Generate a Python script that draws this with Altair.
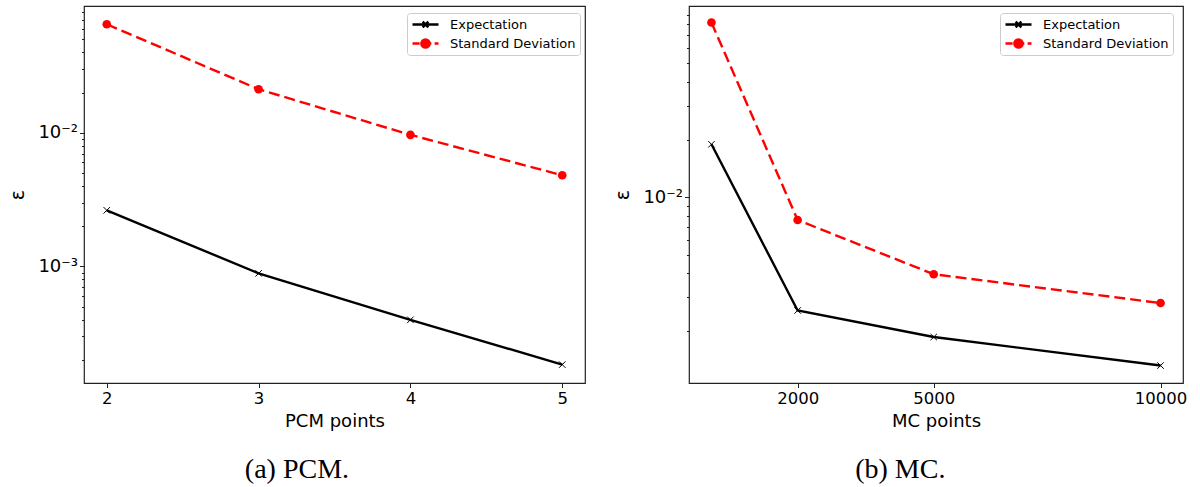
import altair as alt
import pandas as pd

# ---- data ----
series = ["Expectation", "Standard Deviation"]

pcm_x = [2, 3, 4, 5]
pcm_exp = [0.00263, 0.000887, 0.000398, 0.000184]
pcm_std = [0.0650, 0.0212, 0.00966, 0.00481]

mc_x = [100, 2000, 5000, 10000]
mc_exp = [0.0189, 0.00256, 0.00186, 0.00132]
mc_std = [0.0818, 0.0076, 0.00396, 0.00280]

pcm_xticks = [2, 3, 4, 5]
mc_xticks = [2000, 5000, 10000]

pcm_yticks = [0.0002, 0.0003, 0.0004, 0.0005, 0.0006, 0.0007, 0.0008, 0.0009,
              0.001, 0.002, 0.003, 0.004, 0.005, 0.006, 0.007, 0.008, 0.009,
              0.01, 0.02, 0.03, 0.04, 0.05, 0.06, 0.07, 0.08]
mc_yticks = [0.002, 0.003, 0.004, 0.005, 0.006, 0.007, 0.008, 0.009,
             0.01, 0.02, 0.03, 0.04, 0.05, 0.06, 0.07, 0.08, 0.09]

x_titles = ["PCM points", "MC points"]
captions = ["(a) PCM.", "(b) MC."]
y_title = "ε"

XPATH = "M-1,-1L1,1M-1,1L1,-1"
LEG_EXP = "M-1,0L1,0M-0.22,-0.22L0.22,0.22M-0.22,0.22L0.22,-0.22"
LEG_STD = ("M-1,0L-0.45,0M-0.2,0L0.45,0M0.7,0L1,0"
           "M0.32,0A0.32,0.32,0,1,1,-0.32,0A0.32,0.32,0,1,1,0.32,0Z")

MAJOR_TEST = "abs(datum.value-0.01)<1e-12 || abs(datum.value-0.001)<1e-12"
LABEL_EXPR = ("abs(datum.value-0.01)<1e-12 ? '10⁻²' : "
              "abs(datum.value-0.001)<1e-12 ? '10⁻³' : ''")


def panel(xs, exp, std, xdom, ydom, xticks, yticks, xtitle, caption,
          xformat, w, legx, legy):
    df = pd.DataFrame({
        "x": xs + xs,
        "y": exp + std,
        "series": [series[0]] * len(xs) + [series[1]] * len(xs),
    })
    base = alt.Chart(df)
    xenc = alt.X("x:Q",
                 scale=alt.Scale(domain=xdom, nice=False, zero=False),
                 axis=alt.Axis(values=xticks, format=xformat, title=xtitle,
                               tickSize=4.5, labelPadding=3, titlePadding=5,
                               labelFlush=False))
    yenc = alt.Y("y:Q",
                 scale=alt.Scale(type="log", domain=ydom, nice=False),
                 axis=alt.Axis(values=yticks, labelExpr=LABEL_EXPR,
                               tickSize={"condition": {"test": MAJOR_TEST, "value": 4.5},
                                         "value": 2.5},
                               title=y_title, titleFontSize=19,
                               labelFontSize=18,
                               labelPadding=2, titlePadding=10,
                               labelFlush=False, labelOverlap=False))
    exp_b = base.transform_filter(alt.datum.series == series[0])
    std_b = base.transform_filter(alt.datum.series == series[1])
    exp_line = exp_b.mark_line(color="black", strokeWidth=2.4).encode(x=xenc, y=yenc)
    exp_pts = exp_b.mark_point(shape=XPATH, size=42, color="black",
                               strokeWidth=1, filled=False, opacity=1).encode(x=xenc, y=yenc)
    std_line = std_b.mark_line(color="red", strokeWidth=2.4,
                               strokeDash=[11, 5]).encode(x=xenc, y=yenc)
    std_pts = std_b.mark_point(shape="circle", size=75, filled=True,
                               color="red", opacity=1).encode(x=xenc, y=yenc)

    leg = alt.Legend(title=None, orient="none", legendX=legx, legendY=legy,
                     symbolSize=676, symbolStrokeWidth=2.4, symbolOpacity=1,
                     clipHeight=15, rowPadding=4,
                     labelFont="DejaVu Sans", labelFontSize=13, labelColor="black",
                     labelOffset=10, padding=4,
                     strokeColor="#cccccc", fillColor="rgba(255,255,255,0.85)",
                     cornerRadius=3)
    col_scale = alt.Scale(domain=series, range=["black", "red"])
    legend_layer = base.transform_filter("false").mark_point(
        filled=True, opacity=1).encode(
        x=xenc, y=yenc,
        shape=alt.Shape("series:N", scale=alt.Scale(domain=series, range=[LEG_EXP, LEG_STD]),
                        legend=leg),
        fill=alt.Fill("series:N", scale=col_scale, legend=leg),
        stroke=alt.Stroke("series:N", scale=col_scale, legend=leg),
    )
    return alt.layer(exp_line, std_line, exp_pts, std_pts, legend_layer).properties(
        width=w, height=377,
        title=alt.TitleParams(caption, orient="bottom", anchor="middle", frame="bounds",
                              font="Liberation Serif", fontSize=28, fontWeight="normal",
                              color="black", offset=26),
    )


left = panel(pcm_x, pcm_exp, pcm_std, [1.85, 5.15], [0.000134, 0.089],
             pcm_xticks, pcm_yticks, x_titles[0], captions[0], "d", 501, 323, 7)
right = panel(mc_x, mc_exp, mc_std, [-395, 10495], [0.00107, 0.0998],
              mc_xticks, mc_yticks, x_titles[1], captions[1], "d", 494, 311, 7)

chart = alt.hconcat(left, right, spacing=104, bounds="flush").resolve_scale(
    shape="independent", fill="independent", stroke="independent"
).resolve_legend(
    shape="independent", fill="independent", stroke="independent"
).properties(
    padding={"left": 8, "top": 2, "right": 5, "bottom": 5}
).configure_view(
    stroke="#222222", strokeWidth=1.2
).configure_axis(
    grid=False, domain=False, tickColor="#222222", tickWidth=1,
    labelFont="DejaVu Sans", labelFontSize=16.5, labelColor="black",
    titleFont="DejaVu Sans", titleFontSize=18, titleColor="black",
    titleFontWeight="normal",
)

chart.save("out.html", embed_options={"renderer": "svg", "actions": False})
